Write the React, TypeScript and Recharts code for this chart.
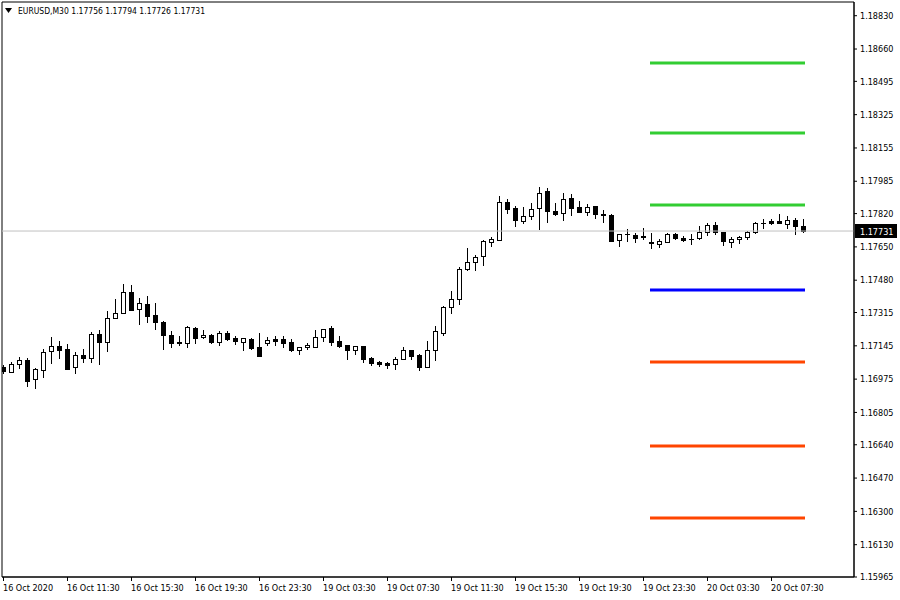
import React from 'react';
import { ComposedChart, Bar, XAxis, YAxis, ReferenceLine, ReferenceArea } from 'recharts';

const symbolTitle = 'EURUSD,M30';
const headerValues = ['1.17756', '1.17794', '1.17726', '1.17731'];

const opens = [
  1.17035, 1.17013, 1.17051, 1.17073, 1.16974, 1.17022, 1.17117, 1.17142, 1.17129, 1.17035,
  1.17098, 1.17084, 1.17205, 1.17163, 1.17285, 1.17311, 1.17418, 1.17331, 1.17358, 1.17302,
  1.17265, 1.17200, 1.17164, 1.17158, 1.17234, 1.17188, 1.17200, 1.17166, 1.17212, 1.17185,
  1.17166, 1.17180, 1.17137, 1.17159, 1.17181, 1.17181, 1.17164, 1.17125, 1.17137, 1.17140,
  1.17188, 1.17236, 1.17170, 1.17149, 1.17125, 1.17142, 1.17083, 1.17064, 1.17056, 1.17051,
  1.17076, 1.17122, 1.17100, 1.17038, 1.17122, 1.17212, 1.17342, 1.17382, 1.17539, 1.17571,
  1.17602, 1.17676, 1.17687, 1.17877, 1.17847, 1.17784, 1.17806, 1.17847, 1.17934, 1.17833,
  1.17821, 1.17898, 1.17853, 1.17830, 1.17859, 1.17819, 1.17813, 1.17684, 1.17716, 1.17711,
  1.17706, 1.17673, 1.17665, 1.17676, 1.17716, 1.17694, 1.17692, 1.17694, 1.17727, 1.17762,
  1.17724, 1.17676, 1.17689, 1.17699, 1.17724, 1.17773, 1.17780, 1.17780, 1.17765, 1.17787,
  1.17756,
];
const highs = [
  1.17047, 1.17064, 1.17086, 1.17081, 1.17032, 1.17127, 1.17188, 1.17170, 1.17154, 1.17113,
  1.17130, 1.17216, 1.17226, 1.17323, 1.17384, 1.17460, 1.17455, 1.17389, 1.17399, 1.17362,
  1.17273, 1.17221, 1.17194, 1.17246, 1.17240, 1.17224, 1.17205, 1.17219, 1.17221, 1.17195,
  1.17185, 1.17185, 1.17210, 1.17192, 1.17194, 1.17195, 1.17178, 1.17137, 1.17158, 1.17224,
  1.17229, 1.17246, 1.17195, 1.17149, 1.17142, 1.17142, 1.17086, 1.17067, 1.17064, 1.17086,
  1.17137, 1.17122, 1.17105, 1.17170, 1.17246, 1.17348, 1.17425, 1.17546, 1.17643, 1.17607,
  1.17685, 1.17699, 1.17911, 1.17894, 1.17859, 1.17852, 1.17872, 1.17954, 1.17949, 1.17872,
  1.17923, 1.17918, 1.17884, 1.17867, 1.17859, 1.17838, 1.17818, 1.17716, 1.17740, 1.17719,
  1.17745, 1.17719, 1.17690, 1.17721, 1.17719, 1.17707, 1.17716, 1.17757, 1.17770, 1.17775,
  1.17727, 1.17699, 1.17707, 1.17729, 1.17775, 1.17791, 1.17791, 1.17816, 1.17808, 1.17796,
  1.17794,
];
const lows = [
  1.17006, 1.17013, 1.17030, 1.16941, 1.16928, 1.16987, 1.17059, 1.17084, 1.17028, 1.17008,
  1.17064, 1.17064, 1.17052, 1.17120, 1.17285, 1.17311, 1.17326, 1.17255, 1.17268, 1.17232,
  1.17130, 1.17137, 1.17148, 1.17140, 1.17158, 1.17185, 1.17161, 1.17151, 1.17176, 1.17154,
  1.17124, 1.17129, 1.17095, 1.17151, 1.17151, 1.17140, 1.17120, 1.17103, 1.17127, 1.17140,
  1.17171, 1.17151, 1.17140, 1.17078, 1.17105, 1.17062, 1.17049, 1.17043, 1.17033, 1.17027,
  1.17076, 1.17079, 1.17022, 1.17035, 1.17073, 1.17200, 1.17314, 1.17358, 1.17532, 1.17532,
  1.17559, 1.17656, 1.17687, 1.17824, 1.17758, 1.17773, 1.17794, 1.17743, 1.17778, 1.17811,
  1.17789, 1.17814, 1.17830, 1.17814, 1.17799, 1.17778, 1.17682, 1.17656, 1.17682, 1.17673,
  1.17690, 1.17646, 1.17651, 1.17673, 1.17690, 1.17678, 1.17663, 1.17689, 1.17712, 1.17716,
  1.17660, 1.17651, 1.17668, 1.17690, 1.17719, 1.17748, 1.17765, 1.17770, 1.17745, 1.17714,
  1.17726,
];
const closes = [
  1.17015, 1.17051, 1.17073, 1.16967, 1.17025, 1.17112, 1.17142, 1.17125, 1.17028, 1.17097,
  1.17084, 1.17204, 1.17166, 1.17285, 1.17311, 1.17418, 1.17329, 1.17362, 1.17299, 1.17265,
  1.17199, 1.17161, 1.17158, 1.17240, 1.17186, 1.17199, 1.17166, 1.17209, 1.17181, 1.17171,
  1.17185, 1.17135, 1.17095, 1.17173, 1.17171, 1.17161, 1.17125, 1.17137, 1.17151, 1.17188,
  1.17229, 1.17166, 1.17146, 1.17125, 1.17142, 1.17079, 1.17056, 1.17051, 1.17047, 1.17076,
  1.17122, 1.17095, 1.17038, 1.17122, 1.17219, 1.17343, 1.17382, 1.17536, 1.17571, 1.17597,
  1.17678, 1.17690, 1.17877, 1.17845, 1.17789, 1.17806, 1.17842, 1.17927, 1.17835, 1.17819,
  1.17893, 1.17850, 1.17830, 1.17852, 1.17819, 1.17811, 1.17682, 1.17716, 1.17714, 1.17694,
  1.17699, 1.17668, 1.17680, 1.17716, 1.17694, 1.17687, 1.17691, 1.17724, 1.17762, 1.17724,
  1.17680, 1.17690, 1.17699, 1.17724, 1.17770, 1.17770, 1.17773, 1.17770, 1.17787, 1.17758,
  1.17731,
];

const timeTickIndex = [0, 8, 16, 24, 32, 40, 48, 56, 64, 72, 80, 88, 96];
const timeTickLabels = [
  '16 Oct 2020', '16 Oct 11:30', '16 Oct 15:30', '16 Oct 19:30', '16 Oct 23:30',
  '19 Oct 03:30', '19 Oct 07:30', '19 Oct 11:30', '19 Oct 15:30', '19 Oct 19:30',
  '19 Oct 23:30', '20 Oct 03:30', '20 Oct 07:30',
];
const priceTicks = [
  1.1883, 1.1866, 1.18495, 1.18325, 1.18155, 1.17985, 1.1782, 1.1765, 1.1748,
  1.17315, 1.17145, 1.16975, 1.16805, 1.1664, 1.1647, 1.163, 1.1613, 1.15965,
];
const levelValues = [1.18589, 1.18231, 1.17864, 1.1743, 1.17062, 1.16634, 1.16266];
const levelColors = ['#32CD32', '#32CD32', '#32CD32', '#0000FF', '#FF4500', '#FF4500', '#FF4500'];
const levelStart = 81;
const levelEnd = 100;

const priceDomain = [1.15965, 1.189];
const indexDomain = [-0.1875, 106.3125];

const FONT = '"DejaVu Sans Condensed", "DejaVu Sans", sans-serif';

const data = opens.map((o, i) => ({ i, open: o, high: highs[i], low: lows[i], close: closes[i] }));
const lastClose = closes[closes.length - 1];

const Candle = (props: any) => {
  const { x, y, width, height, payload } = props;
  if (x == null || y == null || !payload) return null;
  const top = Math.min(y, y + height);
  const h = Math.abs(height);
  const { open, close, high, low } = payload;
  const per = high === low ? 0 : h / (high - low);
  const yO = top + (high - open) * per;
  const yC = top + (high - close) * per;
  const cx = Math.floor(x + width / 2) + 0.5;
  const bTop = Math.round(Math.min(yO, yC));
  const bBot = Math.round(Math.max(yO, yC));
  const bull = close > open;
  return (
    <g>
      <line x1={cx} x2={cx} y1={Math.round(top)} y2={Math.round(top + h) + 1} stroke="#000" strokeWidth={1} />
      {bull ? (
        <rect x={cx - 2} y={bTop + 0.5} width={4} height={Math.max(bBot - bTop, 1)} fill="#fff" stroke="#000" strokeWidth={1} />
      ) : (
        <rect x={cx - 2.5} y={bTop} width={5} height={Math.max(bBot - bTop + 1, 1)} fill="#000" />
      )}
    </g>
  );
};

const TimeTick = (props: any) => {
  const { x, y, payload } = props;
  const k = timeTickIndex.indexOf(payload.value);
  return (
    <text x={x - 0.5} y={y + 8} fontSize={9} fontFamily={FONT} fill="#000" textAnchor="start">
      {k >= 0 ? timeTickLabels[k] : ''}
    </text>
  );
};

const PriceBox = (props: any) => {
  const vb = props.viewBox || {};
  const bx = vb.x + vb.width + 1;
  const by = Math.round(vb.y);
  return (
    <g>
      <rect x={bx} y={by - 7} width={42} height={14} fill="#000" />
      <text x={bx + 5} y={by + 3.5} fontSize={9} fontFamily={FONT} fill="#fff">
        {lastClose.toFixed(5)}
      </text>
    </g>
  );
};

export default function App() {
  return (
    <div style={{ position: 'absolute', left: 0, top: 0, width: 900, height: 600, background: '#fff' }}>
      <ComposedChart
        width={900}
        height={600}
        data={data}
        margin={{ top: 2, right: 0, bottom: 0, left: 2 }}
        barSize={5}
      >
        <XAxis
          dataKey="i"
          type="number"
          domain={indexDomain}
          allowDataOverflow
          ticks={timeTickIndex}
          interval={0}
          height={23}
          tickSize={4}
          tickMargin={2}
          tickLine={{ stroke: '#000' }}
          axisLine={{ stroke: '#000' }}
          tick={<TimeTick />}
        />
        <YAxis
          orientation="right"
          type="number"
          domain={priceDomain}
          allowDataOverflow
          ticks={priceTicks}
          interval={0}
          width={46}
          tickSize={3}
          tickMargin={3}
          tickLine={{ stroke: '#000' }}
          axisLine={{ stroke: '#000' }}
          tickFormatter={(v: number) => v.toFixed(5)}
          tick={{ fill: '#000', fontSize: 9, fontFamily: FONT }}
        />
        <ReferenceArea
          x1={indexDomain[0]}
          x2={indexDomain[1]}
          y1={priceDomain[0]}
          y2={priceDomain[1]}
          fill="none"
          stroke="#000"
          strokeWidth={1}
          ifOverflow="visible"
        />
        <ReferenceLine y={lastClose} stroke="#C0C0C0" strokeWidth={1} label={<PriceBox />} />
        {levelValues.map((v, k) => (
          <ReferenceLine
            key={k}
            segment={[{ x: levelStart, y: v }, { x: levelEnd, y: v }]}
            stroke={levelColors[k]}
            strokeWidth={3}
            strokeLinecap="square"
            ifOverflow="visible"
          />
        ))}
        <Bar dataKey={(d: any) => [d.low, d.high]} shape={<Candle />} isAnimationActive={false} />
      </ComposedChart>
      <div
        style={{
          position: 'absolute',
          left: 5,
          top: 5,
          fontFamily: FONT,
          fontSize: 8.5,
          color: '#000',
          whiteSpace: 'pre',
          display: 'flex',
          alignItems: 'center',
          lineHeight: '12px',
        }}
      >
        <svg width={8} height={6} style={{ marginRight: 5 }}>
          <polygon points="0,0 7,0 3.5,5" fill="#000" />
        </svg>
        <span>{symbolTitle + ' ' + headerValues.join(' ')}</span>
      </div>
    </div>
  );
}
